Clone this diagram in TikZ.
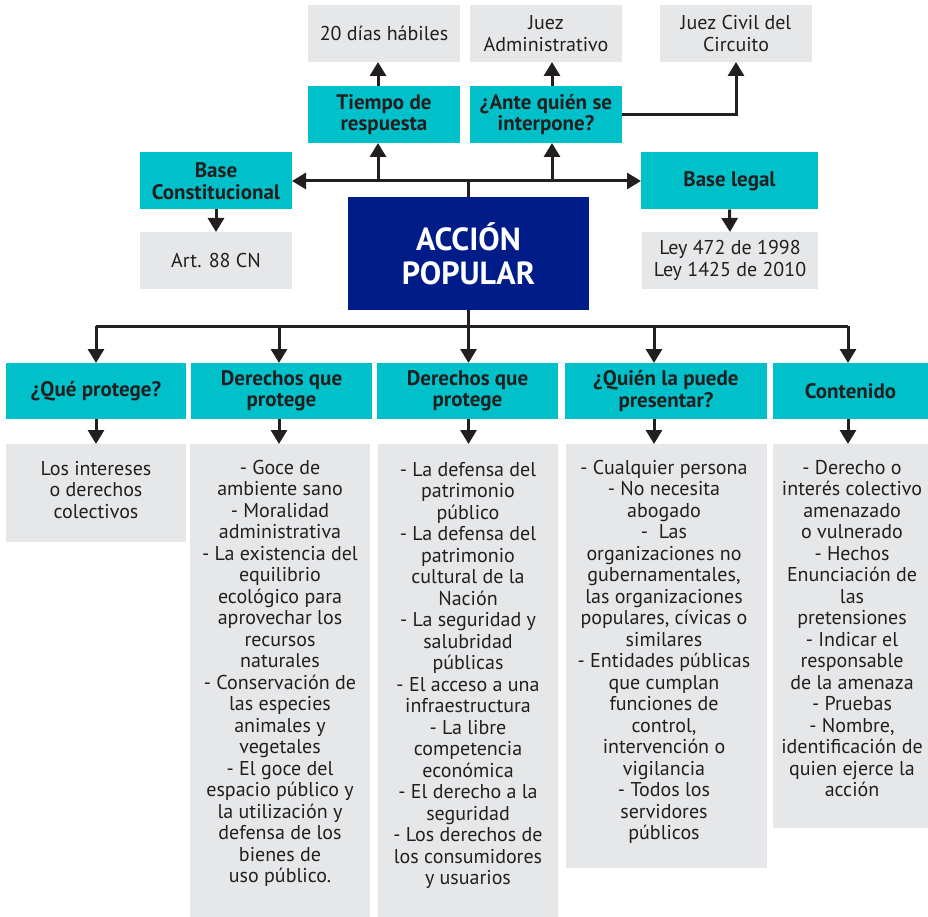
\documentclass[tikz,border=0pt]{standalone}
\usepackage{fontspec}
\setmainfont{PT Sans}
\usetikzlibrary{arrows.meta}
\definecolor{headteal}{RGB}{0,193,201}
\definecolor{boxgrey}{RGB}{230,231,232}
\definecolor{navy}{RGB}{0,28,136}
\definecolor{ink}{RGB}{35,31,32}
\begin{document}
\begin{tikzpicture}[x=1pt,y=-1pt,
  box/.style={rectangle, inner sep=0pt, outer sep=0pt, text=ink, align=center},
  head/.style={box, fill=headteal, font=\bfseries\fontsize{21}{21.5}\selectfont},
  info/.style={box, fill=boxgrey, font=\fontsize{20}{21.5}\selectfont},
  body/.style={box, anchor=north, font=\fontsize{20}{21.5}\selectfont},
  link/.style={draw=ink, line width=3pt},
  arr/.style={link, -{Triangle[width=16pt,length=14pt]}},
]
\useasboundingbox (0,0) rectangle (928,917);

% central node
\node[box, fill=navy, text=white, minimum width=241pt, minimum height=113pt,
      font=\bfseries\fontsize{32}{34}\selectfont] (ap) at (468.5,253.5) {ACCIÓN\\POPULAR};

% upper branch
\node[info, minimum width=152pt, minimum height=57pt] (td) at (384,33.5) {20 días hábiles};
\node[info, minimum width=152pt, minimum height=57pt] (ja) at (546,33.5) {Juez\\Administrativo};
\node[info, minimum width=152pt, minimum height=57pt] (jc) at (736,33.5) {Juez Civil del\\Circuito};
\node[head, minimum width=152pt, minimum height=57pt] (tr) at (384,114.5) {Tiempo de\\respuesta};
\node[head, minimum width=152pt, minimum height=57pt] (aq) at (546,114.5) {¿Ante quién se\\interpone?};
\node[head, minimum width=152pt, minimum height=57pt] (bc) at (216,181) {Base\\Constitucional};
\node[head, minimum width=177pt, minimum height=57pt] (bl) at (729.5,181) {Base legal};
\node[info, minimum width=152pt, minimum height=57pt] (art) at (216,260.5) {Art. 88 CN};
\node[info, minimum width=176pt, minimum height=57pt] (ley) at (730,260.5) {Ley 472 de 1998\\Ley 1425 de 2010};

% lower branch: headings
\node[head, minimum width=180pt, minimum height=56pt] (h1) at (96,391) {¿Qué protege?};
\node[head, minimum width=181pt, minimum height=56pt] (h2) at (281.5,391) {Derechos que\\protege};
\node[head, minimum width=181pt, minimum height=56pt] (h3) at (467.5,391) {Derechos que\\protege};
\node[head, minimum width=202pt, minimum height=56pt] (h4) at (666,391) {¿Quién la puede\\presentar?};
\node[head, minimum width=155pt, minimum height=56pt] (h5) at (850.5,391) {Contenido};

% lower branch: content panels
\node[info, anchor=north, minimum width=180pt, minimum height=98pt] (g1) at (96,444) {};
\node[info, anchor=north, minimum width=180pt, minimum height=473pt] (g2) at (280,444) {};
\node[info, anchor=north, minimum width=180pt, minimum height=473pt] (g3) at (468,444) {};
\node[info, anchor=north, minimum width=201pt, minimum height=424pt] (g4) at (666.5,444) {};
\node[info, anchor=north, minimum width=155pt, minimum height=384pt] (g5) at (850.5,444) {};

\node[body] (t1) at (96,461) {Los intereses\\o derechos\\colectivos};
\node[body] (t2) at (280,460) {- Goce de\\ambiente sano\\- Moralidad\\administrativa\\- La existencia del\\equilibrio\\ecológico para\\aprovechar los\\recursos\\naturales\\- Conservación de\\las especies\\animales y\\vegetales\\- El goce del\\espacio público y\\la utilización y\\defensa de los\\bienes de\\uso público.};
\node[body] (t3) at (468,462) {- La defensa del\\patrimonio\\público\\- La defensa del\\patrimonio\\cultural de la\\Nación\\- La seguridad y\\salubridad\\públicas\\- El acceso a una\\infraestructura\\- La libre\\competencia\\económica\\- El derecho a la\\seguridad\\- Los derechos de\\los consumidores\\y usuarios};
\node[body] (t4) at (664,460) {- Cualquier persona\\- No necesita\\abogado\\-\ \ Las\\organizaciones no\\gubernamentales,\\las organizaciones\\populares, cívicas o\\similares\\- Entidades públicas\\que cumplan\\funciones de\\control,\\intervención o\\vigilancia\\- Todos los\\servidores\\públicos};
\node[body] (t5) at (852,460) {- Derecho o\\interés colectivo\\amenazado\\o vulnerado\\- Hechos\\Enunciación de\\las\\pretensiones\\- Indicar el\\responsable\\de la amenaza\\- Pruebas\\- Nombre,\\identificación de\\quien ejerce la\\acción};

% junction points
\coordinate (jt) at (468.5,181);
\coordinate (ut) at (378,181);
\coordinate (ua) at (552,181);
\coordinate (jb) at (468.5,326);
\coordinate (b1) at (96,326);
\coordinate (b2) at (279,326);
\coordinate (b3) at (468.5,326);
\coordinate (b4) at (654,326);
\coordinate (b5) at (848,326);

% upper connectors
\draw[link] (ap.north) -- (jt);
\draw[arr] (jt) -- (bc.east);
\draw[arr] (jt) -- (bl.west);
\draw[arr] (ut) -- (tr.south -| ut);
\draw[arr] (ua) -- (aq.south -| ua);
\draw[arr] (tr.north -| ut) -- (td.south -| ut);
\draw[arr] (aq.north -| ua) -- (ja.south -| ua);
\draw[arr] (aq.east) -| (jc.south);
\draw[arr] (bc.south) -- (art.north);
\draw[arr] (bl.south) -- (ley.north);

% lower connectors
\draw[link] (ap.south) -- (jb);
\draw[link] (b1) -- (b5);
\foreach \i in {1,...,5}{
  \draw[arr] (b\i) -- (h\i.north -| b\i);
  \draw[arr] (h\i.south -| b\i) -- (g\i.north -| b\i);
}
\end{tikzpicture}
\end{document}
